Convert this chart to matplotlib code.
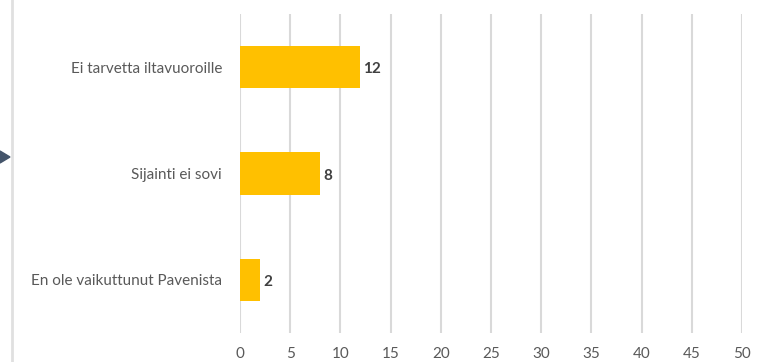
import matplotlib.pyplot as plt
from matplotlib.lines import Line2D
from matplotlib.patches import Polygon

categories = ['Ei tarvetta iltavuoroille', 'Sijainti ei sovi', 'En ole vaikuttunut Pavenista']
values = [12, 8, 2]
xticks = [0, 5, 10, 15, 20, 25, 30, 35, 40, 45, 50]

plt.rcParams['font.family'] = ['Lato', 'DejaVu Sans']

W, H = 768, 362
fig = plt.figure(figsize=(W / 100, H / 100), dpi=100)
ax = fig.add_axes([240 / W, 1 - 333 / H, 502 / W, 319 / H])

ypos = list(range(len(categories)))
ax.barh(ypos, values, height=0.4, color='#ffc000', zorder=3)
for y, v in zip(ypos, values):
    ax.text(v + 0.3, y + 0.02, str(v), va='center', ha='left', fontsize=11,
            fontweight='bold', color='#404040', zorder=4)

ax.set_xlim(0, 50)
ax.set_ylim(len(categories) - 0.5, -0.5)
ax.set_xticks(xticks)
ax.set_yticks(ypos)
ax.set_yticklabels(categories)
ax.tick_params(axis='both', length=0, colors='#595959', labelsize=11)
ax.tick_params(axis='x', pad=10)
ax.tick_params(axis='y', pad=13)
ax.grid(axis='x', color='#d9d9d9', linewidth=1.5, zorder=0)
for s in ax.spines.values():
    s.set_visible(False)

# left frame line and slide arrow
fig.add_artist(Line2D([12 / W, 12 / W], [0, 1], color='#e0e0e0', linewidth=2))
fig.add_artist(Polygon([[0, 1 - 151 / H], [10 / W, 1 - 157 / H], [0, 1 - 163 / H]],
                       closed=True, color='#44546a', transform=fig.transFigure))

fig.savefig('out.png', dpi=100)
